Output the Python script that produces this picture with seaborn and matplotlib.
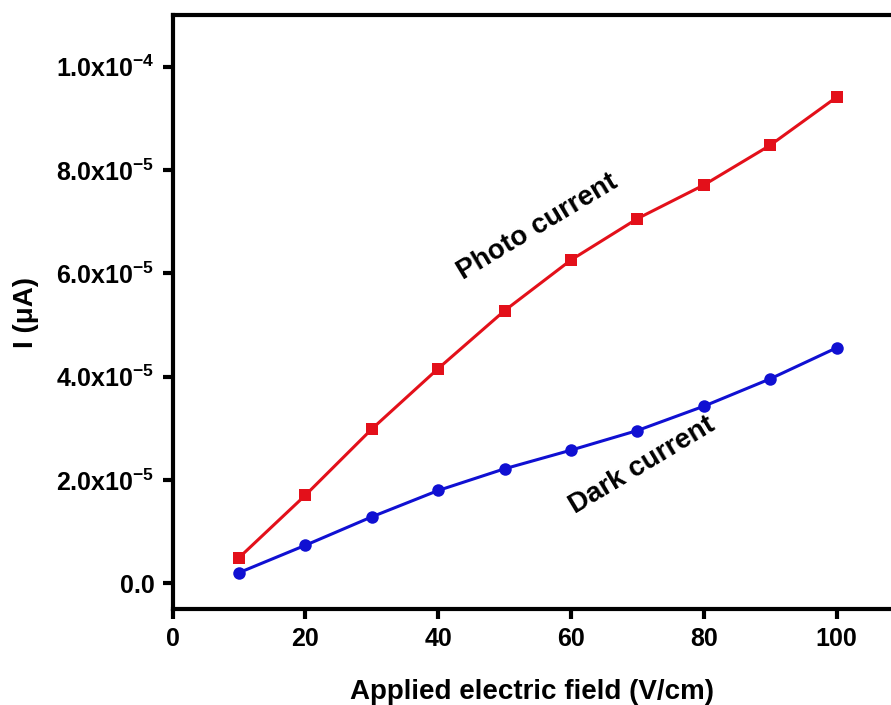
import pandas as pd
import matplotlib
matplotlib.use("Agg")
import matplotlib.pyplot as plt
import seaborn as sns

# Data
field = [10, 20, 30, 40, 50, 60, 70, 80, 90, 100]  # V/cm
photo_current = [0.50e-5, 1.71e-5, 2.99e-5, 4.16e-5, 5.28e-5,
                 6.26e-5, 7.06e-5, 7.71e-5, 8.48e-5, 9.41e-5]
dark_current = [0.21e-5, 0.74e-5, 1.29e-5, 1.80e-5, 2.22e-5,
                2.58e-5, 2.96e-5, 3.43e-5, 3.96e-5, 4.56e-5]

x_ticks = [0, 20, 40, 60, 80, 100]
y_ticks = [0, 2e-5, 4e-5, 6e-5, 8e-5, 1e-4]
y_tick_labels = ["0.0", "2.0x10$^{-5}$", "4.0x10$^{-5}$", "6.0x10$^{-5}$",
                 "8.0x10$^{-5}$", "1.0x10$^{-4}$"]

df = pd.DataFrame({"field": field, "photo": photo_current, "dark": dark_current})

sns.set_style("ticks")
plt.rcParams["font.family"] = ["Liberation Sans", "DejaVu Sans"]
plt.rcParams["font.weight"] = "bold"
plt.rcParams["text.color"] = "black"
plt.rcParams["axes.labelcolor"] = "black"
plt.rcParams["xtick.color"] = "black"
plt.rcParams["ytick.color"] = "black"
plt.rcParams["mathtext.fontset"] = "custom"
plt.rcParams["mathtext.rm"] = "Liberation Sans:bold"
plt.rcParams["mathtext.default"] = "rm"

fig = plt.figure(figsize=(8.91, 7.05), dpi=100)
ax = fig.add_axes([0.1938, 0.1357, 0.8062, 0.8430])

sns.lineplot(data=df, x="field", y="photo", ax=ax, color="#e3101a",
             marker="s", markersize=8.5, markeredgewidth=0, linewidth=2.2)
sns.lineplot(data=df, x="field", y="dark", ax=ax, color="#1010d2",
             marker="o", markersize=9, markeredgewidth=0, linewidth=2.2)

ax.set_xlim(0, 108.2)
ax.set_ylim(-0.5e-5, 11.0e-5)
ax.set_xticks(x_ticks)
ax.set_xticklabels([str(t) for t in x_ticks])
ax.set_yticks(y_ticks)
ax.set_yticklabels(y_tick_labels)

ax.spines["right"].set_visible(False)
for side in ["left", "bottom", "top"]:
    ax.spines[side].set_linewidth(3)
    ax.spines[side].set_color("black")
ax.tick_params(direction="out", length=7, width=3, labelsize=18, pad=6,
               colors="black")
for lbl in ax.get_xticklabels() + ax.get_yticklabels():
    lbl.set_fontweight("bold")

ax.set_xlabel("Applied electric field (V/cm)", fontsize=20, fontweight="bold",
              labelpad=20, color="black")
ax.set_ylabel("I (\u03bcA)", fontsize=20, fontweight="bold", labelpad=12,
              color="black")

ax.text(54.9, 6.90e-5, "Photo current", rotation=31, fontsize=20,
        fontweight="bold", ha="center", va="center", color="black")
ax.text(70.7, 2.29e-5, "Dark current", rotation=31, fontsize=20,
        fontweight="bold", ha="center", va="center", color="black")

fig.savefig("out.png", dpi=100)
